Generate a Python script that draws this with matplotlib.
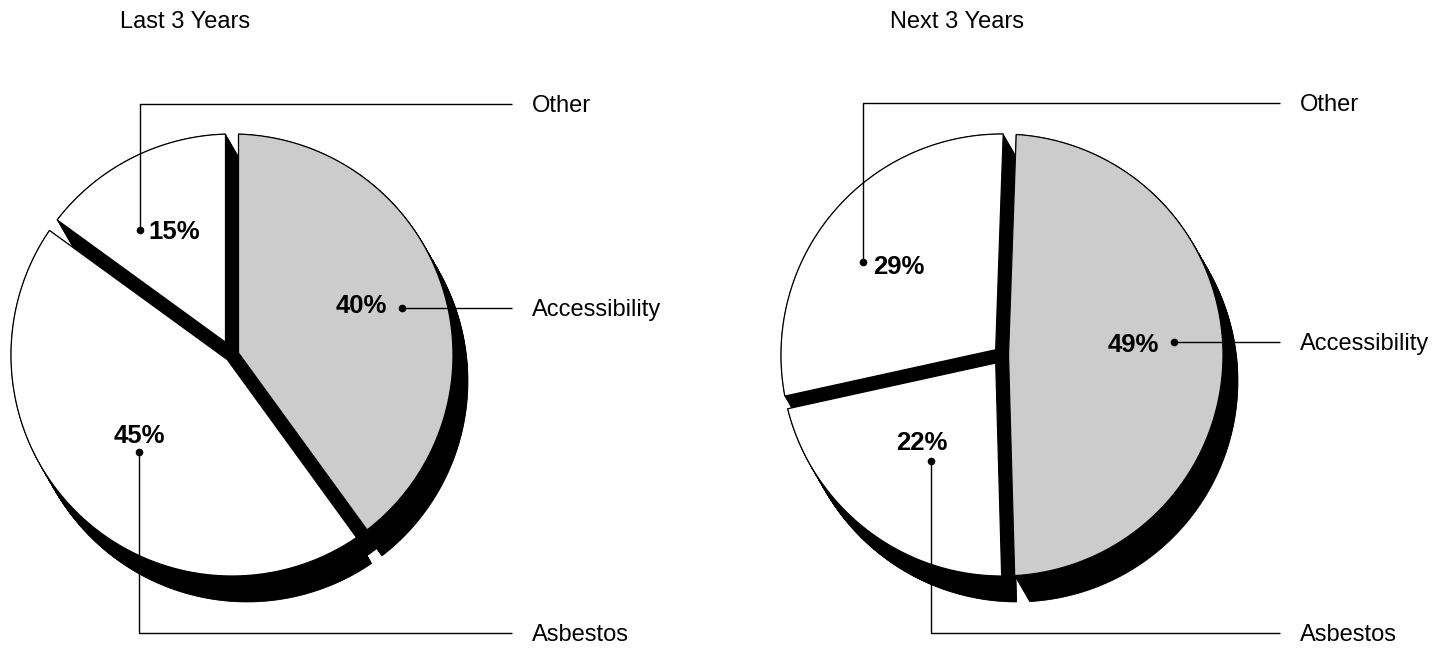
import matplotlib.pyplot as plt
from matplotlib.patches import Polygon
import numpy as np

plt.rcParams['font.family'] = ['Liberation Sans', 'DejaVu Sans']

# survey shares, in percent
categories = ['Accessibility', 'Asbestos', 'Other']
last_3_years = [40, 45, 15]
next_3_years = [49, 22, 29]
titles = ['Last 3 Years', 'Next 3 Years']
slice_colors = ['#cccccc', 'white', 'white']

W, H = 1447, 649
fig = plt.figure(figsize=(W / 100, H / 100), dpi=100)
ax = fig.add_axes([0, 0, 1, 1])
ax.set_xlim(0, W)
ax.set_ylim(H, 0)   # pixel units, y grows downwards
ax.axis('off')

R = 221
gap = 6.5                       # half width of the black seams between slices
depth = np.array([15.0, 26.0])  # extrusion of the pie body

pies = [
    dict(values=last_3_years, title=titles[0], center=(232, 355), start=90,
         title_x=120, line_end=512,
         dots=[(402, 308), (139, 452), (140, 230)],
         pct=[(387, 306, 'right'), (139, 436, 'center'), (148, 232, 'left')],
         elbow=[None, 633, 104]),
    dict(values=next_3_years, title=titles[1], center=(1002, 355), start=88,
         title_x=890, line_end=1280,
         dots=[(1174, 342), (931, 461), (863, 262)],
         pct=[(1159, 345, 'right'), (922, 443, 'center'), (873, 267, 'left')],
         elbow=[None, 633, 103]),
]


def pt(c, r, ang):
    # point at angle ang (degrees, counter-clockwise on screen) from c
    a = np.radians(ang)
    return np.array([c[0] + r * np.cos(a), c[1] - r * np.sin(a)])


def slice_spans(values, start):
    # clockwise slices starting at `start` degrees (12 o'clock = 90)
    frac = np.array(values, dtype=float) / np.sum(values)
    edges = start - 360 * np.concatenate([[0], np.cumsum(frac)])
    return [(edges[i + 1], edges[i]) for i in range(len(values))]


def face(c, a1, a2):
    # slice outline pulled in by `gap` from both radial edges
    half = np.radians(a2 - a1) / 2
    tip = pt(c, gap / np.sin(half), (a1 + a2) / 2)
    d = np.degrees(np.arcsin(gap / R))
    arc = [pt(c, R, a) for a in np.linspace(a1 + d, a2 - d, 200)]
    return np.vstack([tip] + arc)


def seam(c, ang):
    # black strip along a slice boundary; full length only where the
    # extruded body does not already fill the gap
    u = pt((0, 0), 1, ang)
    n = np.array([-u[1], u[0]])
    covered = abs(depth @ n) > 1.6 * gap
    L = np.sqrt(R ** 2 - gap ** 2) - (30 if covered else 0)
    c = np.array(c, dtype=float)
    return np.array([c + gap * n, c + L * u + gap * n, c + L * u - gap * n, c - gap * n])


for p in pies:
    spans = slice_spans(p['values'], p['start'])
    c = p['center']
    faces = [face(c, a1, a2) for a1, a2 in spans]
    seams = [seam(c, a2) for a1, a2 in spans]

    # black body: stacked copies stepping down-right
    for t in np.linspace(1, 0, 45):
        for f in faces:
            ax.add_patch(Polygon(f + t * depth, closed=True, facecolor='black',
                                 edgecolor='black', lw=0.5))
    for t in np.linspace(0.7, 0, 18):
        for s in seams:
            ax.add_patch(Polygon(s + t * depth, closed=True, facecolor='black',
                                 edgecolor='black', lw=0.5))

    # slice faces
    for f, col in zip(faces, slice_colors):
        ax.add_patch(Polygon(f, closed=True, facecolor=col, edgecolor='black', lw=0.9))

    ax.text(p['title_x'], 22, p['title'], fontsize=17, va='center', ha='left')

    for k, cat in enumerate(categories):
        dx, dy = p['dots'][k]
        ey = p['elbow'][k]
        if ey is None:
            xs, ys = [dx, p['line_end']], [dy, dy]
            ly = dy
        else:
            xs, ys = [dx, dx, p['line_end']], [dy, ey, ey]
            ly = ey
        ax.plot(xs, ys, color='black', lw=1.0, solid_capstyle='butt')
        ax.plot(dx, dy, 'o', color='black', ms=4.5)
        ax.text(p['line_end'] + 20, ly + 2, cat, fontsize=17, va='center', ha='left')
        tx, ty, ha = p['pct'][k]
        ax.text(tx, ty, f"{p['values'][k]}%", fontsize=18.5, fontweight='bold',
                va='center', ha=ha)

fig.savefig('out.png', dpi=100, facecolor='white')
